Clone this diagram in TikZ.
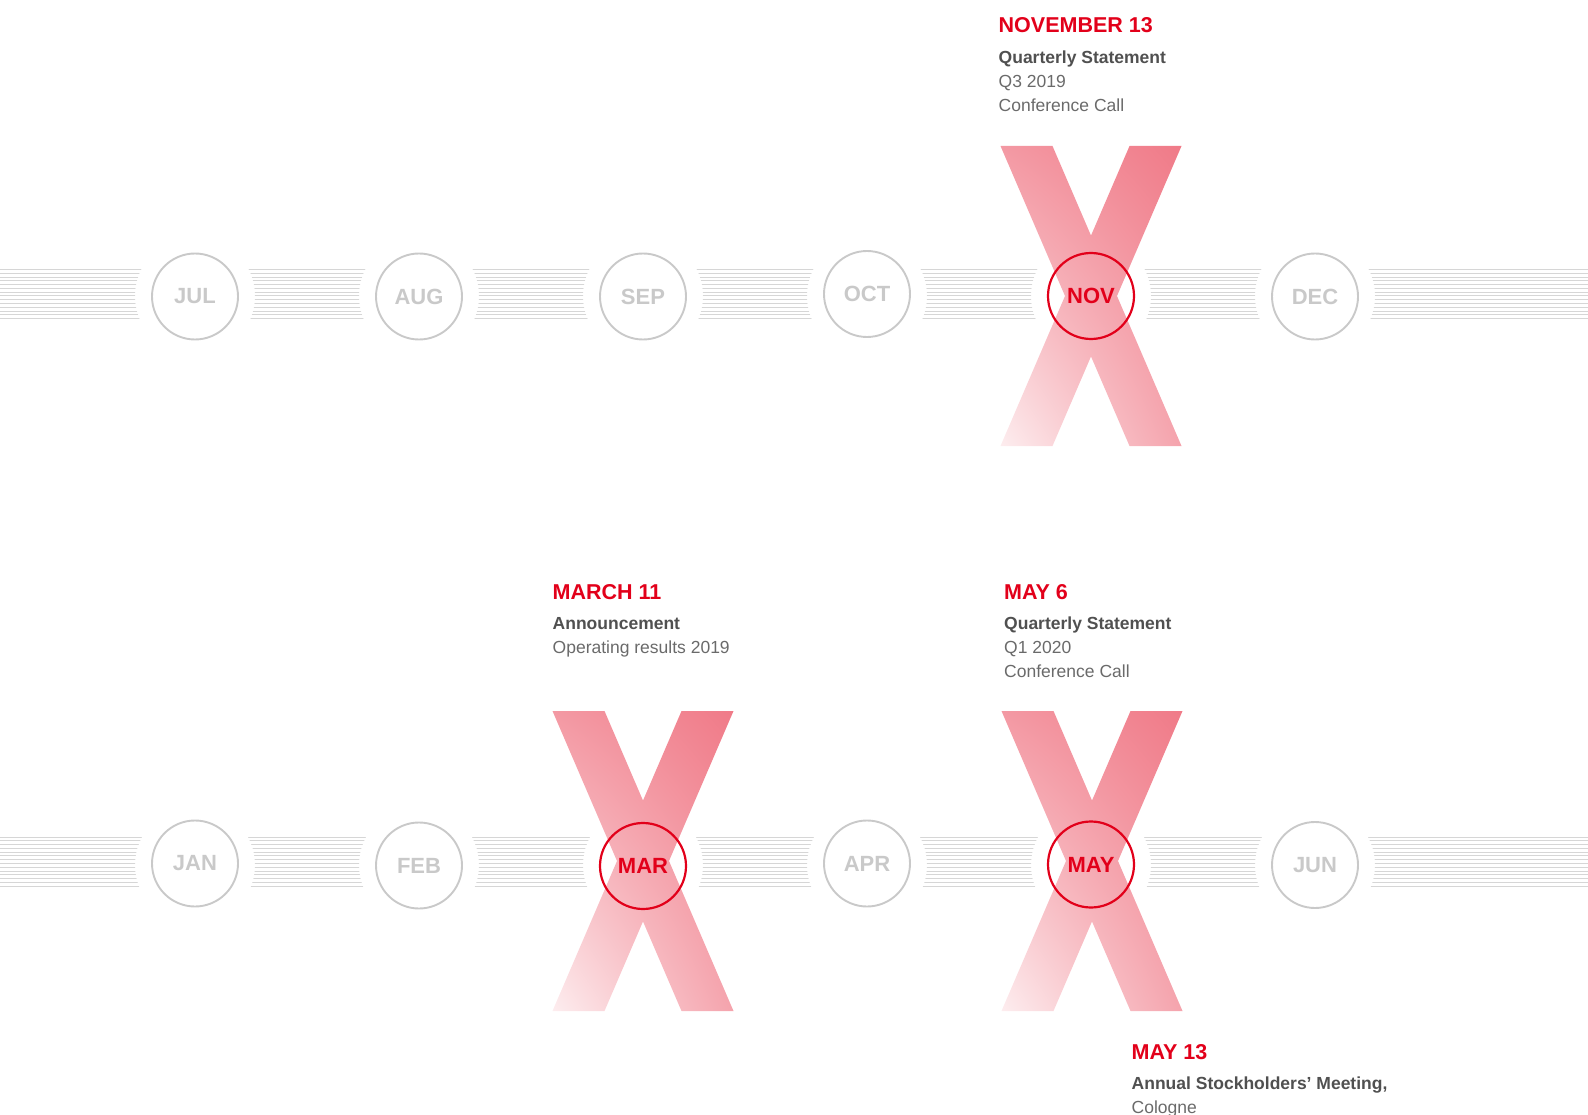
\documentclass[tikz,border=0pt]{standalone}
\usepackage{fontspec}
\setmainfont{Liberation Sans}
\usetikzlibrary{shadings}
\definecolor{xred}{HTML}{E2001A}
\definecolor{mgray}{HTML}{C9C9C9}
\definecolor{sgray}{HTML}{D6D6D6}
\definecolor{tdark}{HTML}{505050}
\definecolor{tgray}{HTML}{6A6A6A}
\begin{document}
\begin{tikzpicture}[x=1pt,y=-1pt,
    month/.style={circle,draw=mgray,line width=1.9pt,minimum size=86pt,inner sep=0pt,
      text=mgray,font=\fontsize{22}{22}\selectfont\bfseries},
    now/.style={month,draw=xred,line width=2.2pt,text=xred},
    datetitle/.style={anchor=base west,inner sep=0pt,text=xred,font=\fontsize{21.5}{21.5}\selectfont\bfseries},
    headtext/.style={anchor=base west,inner sep=0pt,text=tdark,font=\fontsize{17.5}{17.5}\selectfont\bfseries},
    bodytext/.style={anchor=base west,inner sep=0pt,text=tgray,font=\fontsize{17.5}{17.5}\selectfont},
    stripe/.style={sgray,line width=0.85pt}]
  \useasboundingbox (0,0) rectangle (1588,1115);
  % striped bands, cut round the months
  \foreach \cy/\sy in {296/269.5,865/837} {
    \begin{scope}[even odd rule]
      \clip (0,\sy-2) rectangle (1588,\sy+51)
        \foreach \x in {195,419,643,867,1091,1315} {(\x,\cy) circle (60)};
      \foreach \i in {0,...,13}
        \draw[stripe] (0,{\sy+3.77*\i}) -- (1588,{\sy+3.77*\i});
    \end{scope}
  }
  % the red crosses
  \foreach \cx/\cy in {1091/296,643/861,1092/861} {
    \begin{scope}[shift={(\cx,\cy)}]
      \shade[upper left=xred!40!white,upper right=xred!52!white,
             lower left=xred!7!white,lower right=xred!36!white]
        (-90.5,-150) -- (-38.5,-150) -- (90.5,150) -- (38.5,150) -- cycle
        (38.5,-150) -- (90.5,-150) -- (-38.5,150) -- (-90.5,150) -- cycle;
    \end{scope}
  }
  % months
  \foreach \m/\s/\y [count=\i from 0] in {JUL/month/296.5,AUG/month/296.5,SEP/month/296.5,
      OCT/month/294,NOV/now/296,DEC/month/296.5}
    \node[\s] (\m) at ({195+224*\i},\y) {\m};
  \foreach \m/\s/\y [count=\i from 0] in {JAN/month/863.5,FEB/month/865.5,MAR/now/866,
      APR/month/863.5,MAY/now/864.5,JUN/month/865}
    \node[\s] (\m) at ({195+224*\i},\y) {\m};
  % dates
  \node[datetitle] (novdate) at (998.5,32.5) {NOVEMBER 13};
  \node[headtext] (novhead) at (998.5,63.5) {Quarterly Statement};
  \node[bodytext] (novq) at (998.5,87.8) {Q3 2019};
  \node[bodytext] (novcall) at (998.5,112) {Conference Call};
  \node[datetitle] (mardate) at (552.5,599.5) {MARCH 11};
  \node[headtext] (marhead) at (552.5,629.3) {Announcement};
  \node[bodytext] (marres) at (552.5,653.3) {Operating results 2019};
  \node[datetitle] (maydate) at (1004,599.5) {MAY 6};
  \node[headtext] (mayhead) at (1004,629.3) {Quarterly Statement};
  \node[bodytext] (mayq) at (1004,653.6) {Q1 2020};
  \node[bodytext] (maycall) at (1004,677.9) {Conference Call};
  \node[datetitle] (agmdate) at (1131.5,1059.5) {MAY 13};
  \node[headtext] (agmhead) at (1131.5,1089.8) {Annual Stockholders’ Meeting,};
  \node[bodytext] (agmcity) at (1131.5,1113.8) {Cologne};
\end{tikzpicture}
\end{document}
